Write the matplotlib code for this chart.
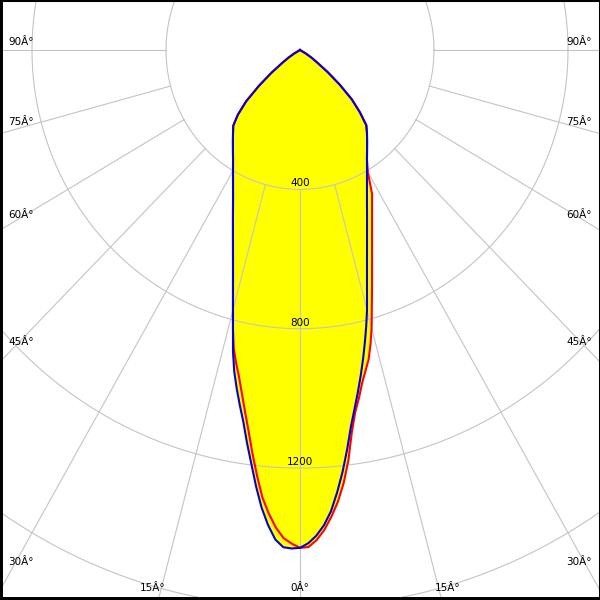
import numpy as np
import matplotlib.pyplot as plt

# gamma angles (deg) and luminous intensity (cd)
gamma = [0, 1, 2, 3, 4, 5, 6, 7, 8, 9, 10, 11, 12, 13, 14, 15,
         17.5, 20, 22.5, 25, 27.5, 30, 32.5, 35, 37.5, 40, 42.5,
         45, 47.5, 50, 52.5, 55, 57.5, 60, 65, 90]

# C0-C180 plane (blue): left half C0, right half C180
c0 = [1429, 1431, 1428, 1407, 1367, 1318, 1258, 1195, 1138, 1081, 1035, 990, 944, 889, 827, 773,
      665, 585, 523, 473, 433, 400, 372, 349, 329, 311, 295,
      262, 218, 160, 108, 65, 41, 20, 0, 0]
c180 = [1429, 1416, 1395, 1366, 1327, 1274, 1217, 1155, 1092, 1042, 996, 951, 906, 861, 817, 773,
        665, 585, 523, 473, 433, 400, 372, 349, 329, 311, 293,
        253, 210, 155, 104, 62, 40, 19, 0, 0]

# C90-C270 plane (red): left half C270, right half C90
c270 = [1429, 1417, 1402, 1373, 1334, 1289, 1228, 1166, 1104, 1050, 1000, 955, 918, 879, 827, 773,
        665, 585, 523, 473, 433, 400, 372, 349, 329, 311, 295,
        262, 218, 160, 108, 65, 41, 20, 0, 0]
c90 = [1429, 1427, 1408, 1380, 1343, 1301, 1249, 1186, 1110, 1053, 1014, 973, 941, 911, 870, 826,
       715, 629, 562, 509, 466, 405, 372, 349, 329, 311, 293,
       253, 210, 155, 104, 62, 40, 19, 0, 0]

rings = [400, 800, 1200, 1600]
ring_labels = ['400', '800', '1200']
spokes = [0, 15, 30, 45, 60, 75, 90]
spoke_labels = [f'{a}Â°' for a in spokes]

# cd per pixel, the vertical scale is a bit stretched in the original
PXX = 400 / 134
PXY = PXX / 1.04
GRID = '#c4c4c4'


def plane_xy(left, right):
    g = np.radians(gamma)
    left = np.asarray(left, float)
    right = np.asarray(right, float)
    xs = np.concatenate([(-left * np.sin(g))[::-1], right * np.sin(g)])
    ys = np.concatenate([(-left * np.cos(g))[::-1], -right * np.cos(g)])
    return xs, ys


fig = plt.figure(figsize=(6, 6), dpi=100)
ax = fig.add_axes([0, 0, 1, 1])
ax.set_xlim(-300 * PXX, 300 * PXX)
ax.set_ylim(-550 * PXY, 50 * PXY)
ax.set_xticks([])
ax.set_yticks([])
for side, lw in [('left', 4.3), ('bottom', 4.3), ('top', 2.2), ('right', 2.2)]:
    ax.spines[side].set_color('black')
    ax.spines[side].set_linewidth(lw)

# 填充 (union of both planes)
bx, by = plane_xy(c0, c180)
rx, ry = plane_xy(c270, c90)
ax.fill(bx, by, color='#ffff00', lw=0, zorder=1)
ax.fill(rx, ry, color='#ffff00', lw=0, zorder=1)

# grid circles
t = np.linspace(0, 2 * np.pi, 721)
for r in rings:
    ax.plot(r * np.cos(t), r * np.sin(t), color=GRID, lw=0.8, zorder=2)

# radial lines from the first ring outwards
for a in spokes:
    s, c = np.sin(np.radians(a)), np.cos(np.radians(a))
    for sign in ([1] if a == 0 else [-1, 1]):
        ax.plot([sign * 400 * s, sign * 3000 * s], [-400 * c, -3000 * c],
                color=GRID, lw=0.8, zorder=2)

for r, lab in zip(rings, ring_labels):
    ax.text(0, -r + 6 * PXY, lab, ha='center', va='center', fontsize=7.5, zorder=3)

# curves
ax.plot(rx, ry, color='#ff0000', lw=1.5, zorder=4)
ax.plot(bx, by, color='#0000e0', lw=1.5, zorder=5)

# angle labels at the frame (placed in pixel terms, like the original)
for a, lab in zip(spokes, spoke_labels):
    s, c = np.sin(np.radians(a)), np.cos(np.radians(a))
    if a == 0:
        ax.text(0, -538 * PXY, lab, ha='center', va='center', fontsize=7.5, zorder=6)
        continue
    y_int = 300 / s * c
    if y_int > 550:
        x_int = 550 / c * s
        for sign in [-1, 1]:
            ax.text(sign * x_int * PXX, -538 * PXY, lab, ha='center', va='center',
                    fontsize=7.5, zorder=6)
    else:
        ax.text(-292 * PXX, -(y_int - 8) * PXY, lab, ha='left', va='center',
                fontsize=7.5, zorder=6)
        ax.text(292 * PXX, -(y_int - 8) * PXY, lab, ha='right', va='center',
                fontsize=7.5, zorder=6)

fig.savefig('out.png', dpi=100)
